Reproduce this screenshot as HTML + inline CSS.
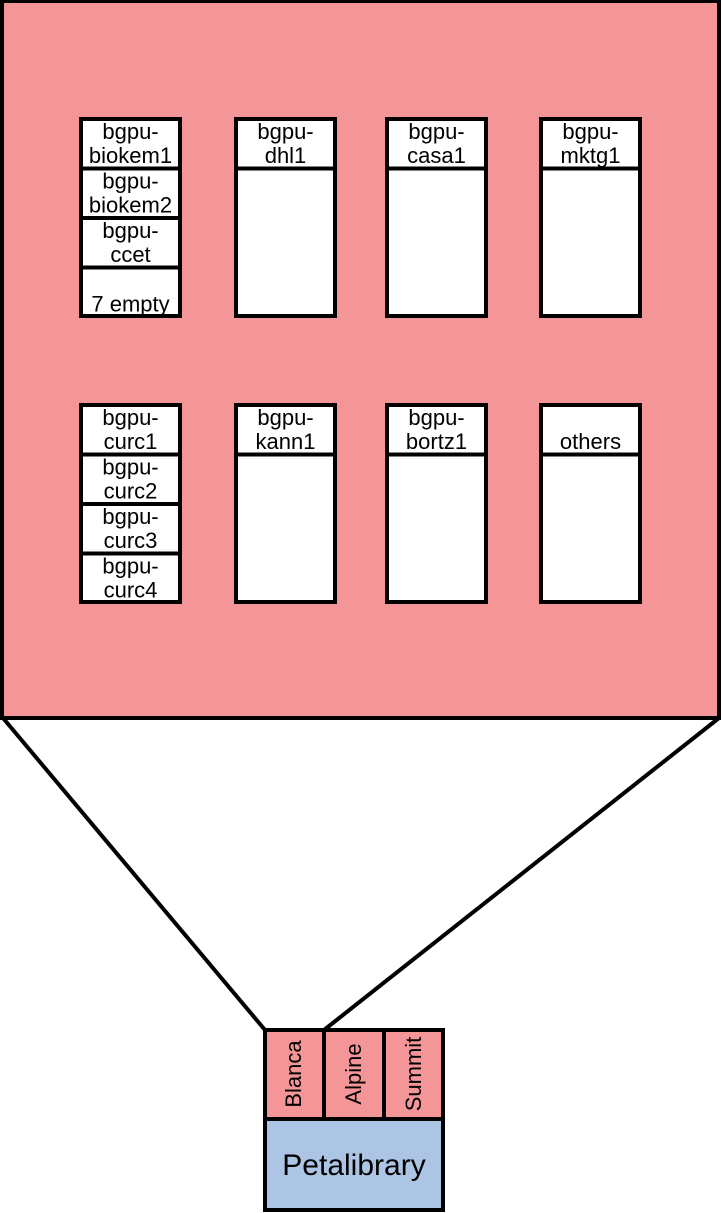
<!DOCTYPE html>
<html><head><meta charset="utf-8"><style>
html,body{margin:0;padding:0;background:#fff;}
svg{display:block;}
text{font-family:"Liberation Sans",sans-serif;font-size:22px;fill:#000;text-anchor:middle;}
</style></head><body>
<svg width="723" height="1213" viewBox="0 0 723 1213">
<rect x="2" y="1" width="717" height="717" fill="#f49698" stroke="#000" stroke-width="4"/>
<line x1="3" y1="718" x2="265" y2="1030" stroke="#000" stroke-width="4"/>
<line x1="719" y1="718" x2="324" y2="1030" stroke="#000" stroke-width="4"/>
<g id="racks"></g>
<g>
<rect x="265" y="1119" width="178" height="91" fill="#adc5e5" stroke="#000" stroke-width="4"/>
<text x="354" y="1175" style="font-size:30px">Petalibrary</text>
<rect x="265" y="1030" width="59" height="89" fill="#f49698" stroke="#000" stroke-width="4"/>
<rect x="324" y="1030" width="60" height="89" fill="#f49698" stroke="#000" stroke-width="4"/>
<rect x="384" y="1030" width="59" height="89" fill="#f49698" stroke="#000" stroke-width="4"/>
<text transform="translate(301,1074) rotate(-90)">Blanca</text>
<text transform="translate(361,1074) rotate(-90)">Alpine</text>
<text transform="translate(421,1074) rotate(-90)">Summit</text>
</g>
</svg>
<script>
const NS='http://www.w3.org/2000/svg';
const g=document.getElementById('racks');
const colsX=[81,236,387,541];
const rowsY=[119,405];
const racks=[
 [[["bgpu-","biokem1"],["bgpu-","biokem2"],["bgpu-","ccet"],["","7 empty"]],[["bgpu-","dhl1"]],[["bgpu-","casa1"]],[["bgpu-","mktg1"]]],
 [[["bgpu-","curc1"],["bgpu-","curc2"],["bgpu-","curc3"],["bgpu-","curc4"]],[["bgpu-","kann1"]],[["bgpu-","bortz1"]],[["","others"]]]
];
function mk(t,a){const e=document.createElementNS(NS,t);for(const k in a)e.setAttribute(k,a[k]);return e;}
const W=99,H=197,S=49.5;
racks.forEach((row,ri)=>row.forEach((slots,ci)=>{
 const x=colsX[ci],y=rowsY[ri];
 const r=mk('rect',{x:x,y:y,width:W,height:H,fill:'#fff',stroke:'#000','stroke-width':4});
 
 
 g.appendChild(r);
 slots.forEach((s,si)=>{
  const sy=y+si*S;
  const l=mk('line',{x1:x,x2:x+W,y1:sy+S,y2:sy+S,stroke:'#000','stroke-width':4});
  
  
  if(sy+S<y+H-2)g.appendChild(l);
  [0,1].forEach(li=>{
   if(!s[li])return;
   const t=mk('text',{x:x+W/2,y:sy+(li?44:20)});
   t.textContent=s[li];
   
   
   g.appendChild(t);
  });
 });
}));
</script>
</body></html>
